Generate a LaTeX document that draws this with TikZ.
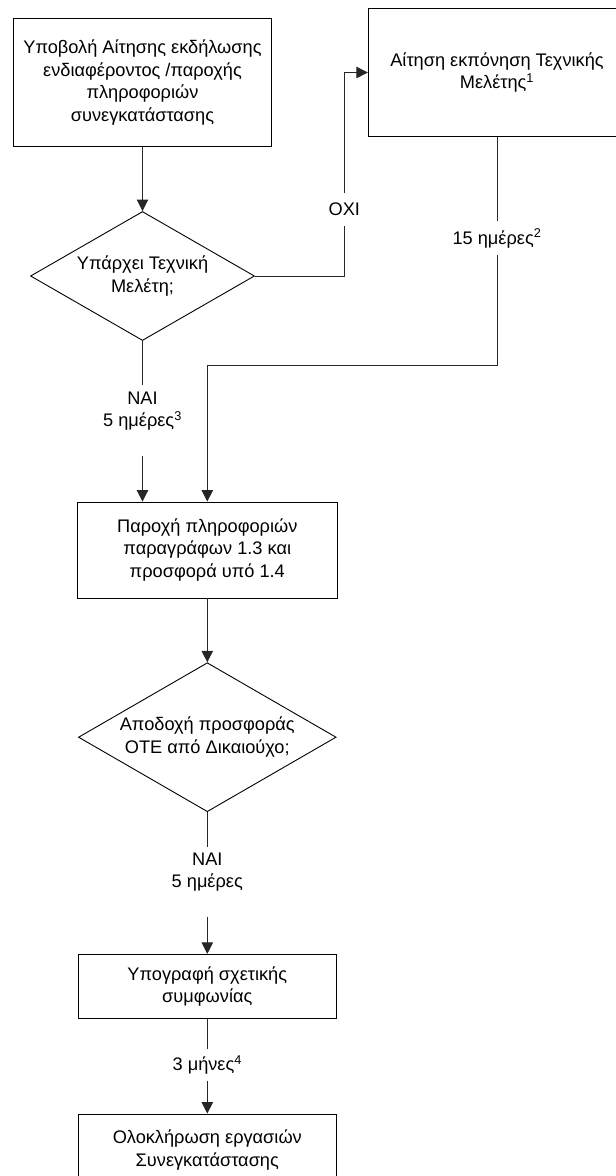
\documentclass[tikz,border=0pt]{standalone}
\usepackage{fontspec}
\setmainfont{Liberation Sans}
\usetikzlibrary{shapes.geometric,arrows.meta}
\newcommand\dfont{\fontsize{18.2pt}{22.5pt}\selectfont}
\begin{document}
\begin{tikzpicture}[x=1pt,y=-1pt,
  line width=0.9pt,
  every node/.style={font=\dfont, text=black},
  box/.style={draw=black, rectangle, align=center, inner sep=0pt},
  dia/.style={draw=black, diamond, align=center, inner sep=0pt, aspect=1.74},
  lbl/.style={fill=white, align=center, inner xsep=2pt},
  txt/.style={align=center, inner sep=0pt},
  conn/.style={draw=black!85},
  arr/.style={conn, -{Triangle[length=11.5pt,width=11.5pt]}}]
\useasboundingbox (0,0) rectangle (616,1176);
\clip (0,0) rectangle (616,1176);

% boxes and decisions
\node[box, minimum width=258pt, minimum height=128pt] (b1) at (142.5,82.5)
  {Υποβολή Αίτησης εκδήλωσης\\ενδιαφέροντος /παροχής\\πληροφοριών\\συνεγκατάστασης};
\node[box, minimum width=257.4pt, minimum height=128.4pt] (b2) at (497,72.5)
  {Αίτηση εκπόνηση Τεχνικής\\Μελέτης\textsuperscript{1}};
\node[dia, minimum width=224pt, minimum height=129pt] (d1) at (142.5,276)
  {Υπάρχει Τεχνική\\Μελέτη;};
\node[box, minimum width=259.3pt, minimum height=96pt] (b3) at (207.3,550)
  {Παροχή πληροφοριών\\παραγράφων 1.3 και\\προσφορά υπό 1.4};
\node[dia, minimum width=257.7pt, minimum height=149pt] (d2) at (207.3,737.2)
  {Αποδοχή προσφοράς\\ΟΤΕ από Δικαιούχο;};
\node[box, minimum width=258pt, minimum height=64.4pt] (b4) at (207.3,986.5)
  {Υπογραφή σχετικής\\συμφωνίας};
\node[box, minimum width=258pt, minimum height=72pt] (b5) at (207.3,1150)
  {Ολοκλήρωση εργασιών\\Συνεγκατάστασης};

% labels
\node[lbl, inner ysep=10pt] (oxi) at (344.3,209.5) {ΟΧΙ};
\node[lbl, inner ysep=7pt] (l15) at (497,238.4) {15 ημέρες\textsuperscript{2}};
\node[txt] (nai1) at (142.5,411) {ΝΑΙ\\5 ημέρες\textsuperscript{3}};
\node[txt] (nai2) at (207.3,872) {ΝΑΙ\\5 ημέρες};
\node[lbl, inner ysep=6pt] (l3m) at (207.3,1065) {3 μήνες\textsuperscript{4}};

% connector coordinates
\coordinate (j1) at (207.3,365);
\coordinate (g1) at (142.5,385);
\coordinate (g2) at (142.5,456);
\coordinate (g3) at (207.3,846.7);
\coordinate (g4) at (207.3,916.7);

% connectors
\draw[arr] (b1) -- (d1);
\draw[arr] (d1.east) -| (oxi) |- (b2.west);
\draw[conn] (b2) -- (l15);
\draw[arr] (l15) |- (j1) -- (b3);
\draw[conn] (d1) -- (g1);
\draw[arr] (g2) -- (g2 |- b3.north);
\draw[arr] (b3) -- (d2);
\draw[conn] (d2) -- (g3);
\draw[arr] (g4) -- (b4);
\draw[conn] (b4) -- (l3m);
\draw[arr] (l3m) -- (b5);
\end{tikzpicture}
\end{document}
